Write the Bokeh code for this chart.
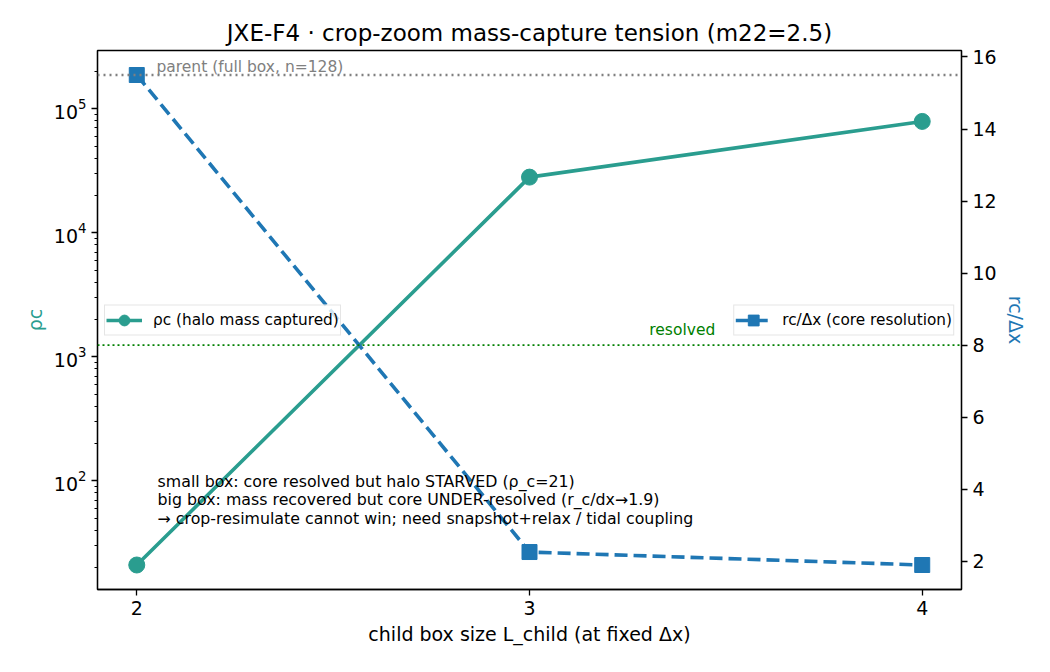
import numpy as np
from bokeh.plotting import figure
from bokeh.models import (Range1d, LinearAxis, LinearScale, FixedTicker, Span, Label,
                          Legend, LegendItem, ColumnDataSource)
from bokeh.embed import file_html
from bokeh.resources import INLINE

# ===== DATA ==========================================
box_size = [2, 3, 4]                       # child box size L_child
rho_c = [21.0, 28100.0, 79000.0]           # halo mass captured
rc_dx = [15.5, 2.26, 1.9]                  # core resolution r_c/dx
parent_rho = 1.87e5                        # parent (full box, n=128)
resolved_level = 8                         # r_c/dx resolved threshold

notes = [
    "small box: core resolved but halo STARVED (ρ_c=21)",
    "big box: mass recovered but core UNDER-resolved (r_c/dx→1.9)",
    "→ crop-resimulate cannot win; need snapshot+relax / tidal coupling",
]

TEAL = "#2a9d8f"
BLUE = "#1f77b4"
FONT = "DejaVu Sans"

# ===== RANGES (5% margins like matplotlib) ============
xlo, xhi = min(box_size), max(box_size)
xpad = 0.05 * (xhi - xlo)

lmin = np.log10(min(rho_c))
lmax = np.log10(max(max(rho_c), parent_rho))
lpad = 0.05 * (lmax - lmin)

rmin, rmax = min(rc_dx), max(rc_dx)
rpad = 0.05 * (rmax - rmin)

src = ColumnDataSource(data=dict(x=box_size, rho=rho_c, rc=rc_dx))

p = figure(width=1046, height=668,
           x_range=Range1d(xlo - xpad, xhi + xpad),
           y_range=Range1d(10 ** (lmin - lpad), 10 ** (lmax + lpad)),
           y_axis_type="log",
           output_backend="svg", toolbar_location=None,
           min_border_left=97, min_border_right=85,
           min_border_top=50, min_border_bottom=79)
p.extra_y_ranges = {"right": Range1d(rmin - rpad, rmax + rpad)}
p.extra_y_scales = {"right": LinearScale()}

p.title.text = "JXE-F4 · crop-zoom mass-capture tension (m22=2.5)"
p.title.align = "center"
p.title.text_font = FONT
p.title.text_font_size = "23px"
p.title.text_font_style = "normal"
p.title.text_color = "black"

p.xgrid.visible = False
p.ygrid.visible = False
p.outline_line_color = "black"
p.outline_line_width = 1.3
p.background_fill_color = "white"
p.border_fill_color = "white"

# axes
p.xaxis.ticker = FixedTicker(ticks=box_size)
p.xaxis.axis_label = "child box size L_child (at fixed Δx)"
p.yaxis.axis_label = "ρc"

right_axis = LinearAxis(y_range_name="right", axis_label="rc/Δx",
                        ticker=FixedTicker(ticks=list(range(2, 17, 2))))
p.add_layout(right_axis, "right")

for ax in [p.xaxis[0], p.yaxis[0], right_axis]:
    ax.major_label_text_font = FONT
    ax.major_label_text_font_size = "19px"
    ax.major_label_text_color = "black"
    ax.axis_label_text_font = FONT
    ax.axis_label_text_font_size = "19px"
    ax.axis_label_text_font_style = "normal"
    ax.axis_label_text_color = "black"
    ax.major_tick_in = 0
    ax.major_tick_out = 6
    ax.minor_tick_in = 0
    ax.minor_tick_out = 3
    ax.axis_line_width = 1.3
    ax.major_tick_line_width = 1.3
    ax.minor_tick_line_width = 1
p.xaxis.minor_tick_line_color = None
right_axis.minor_tick_line_color = None
p.yaxis.axis_label_text_color = TEAL
right_axis.axis_label_text_color = BLUE

# reference lines
p.add_layout(Span(location=parent_rho, dimension="width", line_color="gray",
                  line_width=2.5, line_dash="2 4"))
p.add_layout(Span(location=resolved_level, dimension="width", y_range_name="right",
                  line_color="green", line_width=1.7, line_dash="2 3"))

p.add_layout(Label(x=2.05, y=parent_rho, text="parent (full box, n=128)",
                   text_color="gray", text_font=FONT, text_font_size="15.5px",
                   text_baseline="alphabetic", y_offset=8))
p.add_layout(Label(x=3.473, y=resolved_level, y_range_name="right", text="resolved",
                   text_color="green", text_font=FONT, text_font_size="15.5px",
                   text_align="right", text_baseline="alphabetic", y_offset=15))

# series
l1 = p.line("x", "rho", source=src, line_color=TEAL, line_width=3.6)
m1 = p.scatter("x", "rho", source=src, marker="circle", size=16,
               fill_color=TEAL, line_color=TEAL)
l2 = p.line("x", "rc", source=src, y_range_name="right", line_color=BLUE,
            line_width=3.6, line_dash="13 6")
m2 = p.scatter("x", "rc", source=src, y_range_name="right", marker="square",
               size=15, fill_color=BLUE, line_color=BLUE)

# annotation block
for i, line in enumerate(notes):
    p.add_layout(Label(x=2.053, y=4.22, y_range_name="right", text=line,
                       text_font=FONT, text_font_size="15.8px", text_color="black",
                       text_baseline="middle", y_offset=-18.5 * i))

# legends
for item, loc in [(LegendItem(label="ρc (halo mass captured)", renderers=[l1, m1]), "center_left"),
                  (LegendItem(label="rc/Δx (core resolution)", renderers=[l2, m2]), "center_right")]:
    lg = Legend(items=[item], location=loc)
    lg.label_text_font = FONT
    lg.label_text_font_size = "15.3px"
    lg.label_text_color = "black"
    lg.border_line_color = "#cccccc"
    lg.border_line_width = 1.3
    lg.background_fill_alpha = 0.8
    lg.padding = 1
    lg.margin = 7
    lg.glyph_width = 36
    lg.glyph_height = 27
    lg.label_standoff = 11
    p.add_layout(lg)

open("out.html", "w").write(file_html(p, INLINE))
